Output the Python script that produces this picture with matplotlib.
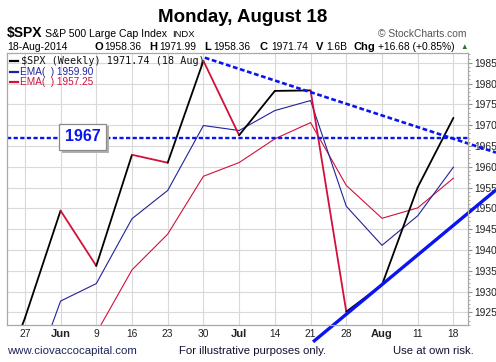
import matplotlib
matplotlib.use("Agg")
import matplotlib.pyplot as plt
import matplotlib.patheffects as pe
import numpy as np

plt.rcParams['font.family'] = ['Liberation Sans', 'DejaVu Sans']

# Weekly data (first point = week of May 19, off the left edge)
week_pos = np.arange(-1, 13)
tick_labels = ['27', 'Jun', '9', '16', '23', '30', 'Jul', '14', '21', '28', 'Aug', '11', '18']
month_labels = ['Jun', 'Jul', 'Aug']
closes = [1900.53, 1923.57, 1949.44, 1936.16, 1962.87, 1960.96, 1985.44,
          1967.57, 1978.22, 1978.34, 1925.15, 1931.59, 1955.06, 1971.74]
ema_fast = [1888.3, 1904.0, 1927.7, 1931.9, 1947.5, 1954.3, 1969.9,
            1968.7, 1973.5, 1975.9, 1950.5, 1941.1, 1948.2, 1959.90]
ema_slow = [1882.7, 1896.3, 1914.0, 1920.0, 1935.2, 1943.8, 1957.7,
            1961.0, 1966.7, 1970.6, 1955.5, 1947.6, 1950.1, 1957.25]

# trend lines drawn on the chart
level_1967 = 1967
resist_x = [5.04, 13.19]
resist_y = [1986.2, 1963.4]
support_x = [8.07, 13.19]
support_y = [1917.9, 1954.4]

up_col = 'black'
down_col = '#d2103c'
fast_col = '#22229a'
slow_col = '#d2103c'
trend_col = '#0a14f0'

fig = plt.figure(figsize=(4.96, 3.62), dpi=100)
ax = fig.add_axes([7 / 496, 1 - 325 / 362, 460.7 / 496, 271.7 / 362])

ax.set_xlim(-0.5, 12.4)
ax.set_ylim(1921.95, 1987.26)

# grid
ax.set_xticks(np.arange(0, 13))
ax.set_yticks(np.arange(1925, 1990, 5))
ax.set_yticks(np.arange(1922, 1988, 1), minor=True)
ax.grid(True, which='major', color='#d9d9d9', lw=0.8)
ax.set_axisbelow(True)
for s in ax.spines.values():
    s.set_color('#a8a8a8')
    s.set_linewidth(0.9)

# EMAs
ax.plot(week_pos, ema_slow, color=slow_col, lw=0.8)
ax.plot(week_pos, ema_fast, color=fast_col, lw=0.8)

# price line, black when up, red when down
for k in range(len(closes) - 1):
    c = up_col if closes[k + 1] >= closes[k] else down_col
    ax.plot(week_pos[k:k + 2], closes[k:k + 2], color=c, lw=1.3,
            solid_capstyle='round')

# horizontal level
ax.axhline(level_1967, color=trend_col, lw=1.7, linestyle=(0, (1.8, 1.0)))
t = ax.text(1.62, level_1967 + 0.2, str(level_1967), color=trend_col, fontsize=11.5,
            fontweight='bold', ha='center', va='center',
            bbox=dict(boxstyle='square,pad=0.35', fc='white', ec='#8a8a8a', lw=0.9))
t.get_bbox_patch().set_path_effects([pe.withSimplePatchShadow(offset=(2, -2),
                                     shadow_rgbFace='#b0b0b0', alpha=1)])

# trend lines
ax.plot(resist_x, resist_y, color=trend_col, lw=1.9, linestyle=(0, (1.8, 1.0)),
        clip_on=False)
ax.plot(support_x, support_y, color=trend_col, lw=2.4, clip_on=False,
        solid_capstyle='butt')

# axes ticks
ax.yaxis.tick_right()
ax.tick_params(axis='y', which='major', length=3, width=0.8, color='#909090',
               labelsize=7.4, pad=2, labelcolor='#222222')
ax.tick_params(axis='y', which='minor', length=1.5, width=0.6, color='#a0a0a0')
ax.tick_params(axis='x', length=0, labelsize=7.4, pad=3, labelcolor='#222222')
ax.set_xticklabels(tick_labels)
for lab in ax.get_xticklabels():
    if lab.get_text() in month_labels:
        lab.set_fontweight('bold')
        lab.set_fontsize(8)

# legend in plot
tr = ax.transAxes
ax.plot([0.0065, 0.0239], [0.9717, 0.9717], color=up_col, lw=1.6, transform=tr)
ax.text(0.031, 0.9717, f"$SPX (Weekly) {closes[-1]:.2f} (18 Aug)", transform=tr,
        family='DejaVu Sans Mono', fontsize=7.3, va='center', color='#111111')
ax.plot([0.0065, 0.0239], [0.932, 0.932], color=fast_col, lw=1.6, transform=tr)
ax.text(0.028, 0.932, f"EMA(  ) {ema_fast[-1]:.2f}", transform=tr, fontsize=7.2,
        va='center', color=fast_col)
ax.plot([0.0065, 0.0239], [0.896, 0.896], color=slow_col, lw=1.6, transform=tr)
ax.text(0.028, 0.896, f"EMA(  ) {ema_slow[-1]:.2f}", transform=tr, fontsize=7.2,
        va='center', color=slow_col)

# header
def ftext(x, y, s, **kw):
    fig.text(x / 496, 1 - y / 362, s, va='baseline', **kw)

ftext(242.5, 21.7, "Monday, August 18", fontsize=13.5, fontweight='bold', ha='center')
ftext(6.7, 37.3, "$SPX", fontsize=10, fontweight='bold')
ftext(45, 36.8, "S&P 500 Large Cap Index", fontsize=7.6)
ftext(172.5, 36.8, "INDX", fontsize=6.8)
ftext(466.7, 37.3, "\u00a9 StockCharts.com", fontsize=7.4, ha='right', color='#555555')

ftext(7.3, 50, "18-Aug-2014", fontsize=7.5)
ohlc = [(94.3, "O", True), (104, "1958.36", False), (149, "H", True),
        (159, "1971.99", False), (204, "L", True), (213.3, "1958.36", False),
        (259, "C", True), (271, "1971.74", False), (316, "V", True),
        (326, "1.6B", False), (354, "Chg", True), (378, "+16.68 (+0.85%)", False)]
for x, s, b in ohlc:
    if b:
        ftext(x, 50, s, fontsize=8, fontweight='bold')
    else:
        ftext(x, 50, s, fontsize=7.4)
ftext(460, 49, "\u25b2", fontsize=5.5, color='#2f6d2f')

# footer
foot_col = '#1d2558'
ftext(7, 354, "www.ciovaccocapital.com", fontsize=8.2, color=foot_col)
ftext(252.5, 354, "For illustrative purposes only.", fontsize=8.2, ha='center', color='#111133')
ftext(474, 354, "Use at own risk.", fontsize=8.2, ha='right', color='#111133')

fig.savefig("out.png", dpi=100)
